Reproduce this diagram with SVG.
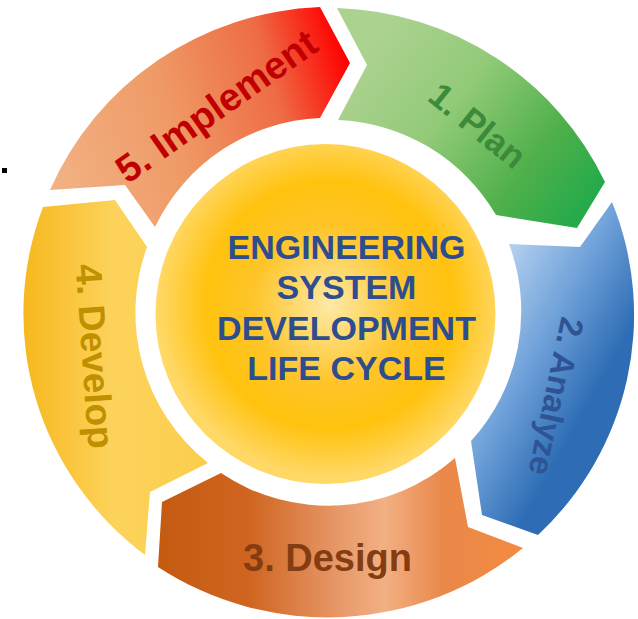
<svg xmlns="http://www.w3.org/2000/svg" width="638" height="619" viewBox="0 0 638 619">
<defs>
<style>
text{font-family:"Liberation Sans",Arial,"DejaVu Sans",sans-serif;font-weight:bold}
.ctr{font-size:34px;fill:#2d4d8e;text-anchor:middle}
.lbl{text-anchor:middle}
</style>
<linearGradient id="gPlan" gradientUnits="userSpaceOnUse" x1="380" y1="40" x2="600" y2="210">
<stop offset="0" stop-color="#abd28f"/>
<stop offset="0.35" stop-color="#92ca78"/>
<stop offset="0.7" stop-color="#4fb04a"/>
<stop offset="1" stop-color="#1ea94a"/>
</linearGradient>
<linearGradient id="gAnalyze" gradientUnits="userSpaceOnUse" x1="505" y1="260" x2="630" y2="330">
<stop offset="0" stop-color="#b2ceee"/>
<stop offset="0.5" stop-color="#6fa1d9"/>
<stop offset="1" stop-color="#2e6db5"/>
</linearGradient>
<linearGradient id="gDesign" gradientUnits="userSpaceOnUse" x1="158" y1="0" x2="523" y2="0">
<stop offset="0" stop-color="#c55a11"/>
<stop offset="0.25" stop-color="#cf6520"/>
<stop offset="0.5" stop-color="#e8996a"/>
<stop offset="0.62" stop-color="#f2b083"/>
<stop offset="0.78" stop-color="#ea884a"/>
<stop offset="1" stop-color="#f38b40"/>
</linearGradient>
<linearGradient id="gDevelop" gradientUnits="userSpaceOnUse" x1="20" y1="0" x2="210" y2="0">
<stop offset="0" stop-color="#f6b71c"/>
<stop offset="0.5" stop-color="#fdd35c"/>
<stop offset="1" stop-color="#fbcd4c"/>
</linearGradient>
<linearGradient id="gImplement" gradientUnits="userSpaceOnUse" x1="50" y1="160" x2="350" y2="70">
<stop offset="0" stop-color="#f2b183"/>
<stop offset="0.4" stop-color="#ef9a66"/>
<stop offset="0.75" stop-color="#ee6c45"/>
<stop offset="1" stop-color="#ff0000"/>
</linearGradient>
<radialGradient id="gCenter" gradientUnits="userSpaceOnUse" cx="330" cy="305" r="172">
<stop offset="0" stop-color="#fde9a6"/>
<stop offset="0.45" stop-color="#fec52a"/>
<stop offset="0.72" stop-color="#ffc20e"/>
<stop offset="1" stop-color="#ffd866"/>
</radialGradient>
</defs>
<rect width="638" height="619" fill="#ffffff"/>
<rect x="2" y="168" width="5" height="5" fill="#000000"/>
<g id="connectors"/>
<g id="node-plan">
<path d="M337,8 A307,303 0 0 1 605,182 L577,228 L496,215 A192,192 0 0 0 338,120 L367,65 Z" fill="url(#gPlan)"/>
<text class="lbl" x="470" y="135" font-size="35" fill="#3d8a3a" transform="rotate(39 470 135)">1. Plan</text>
</g>
<g id="node-analyze">
<path d="M612,202 A307,303 0 0 1 538,535 L482,515 L471,441 A192,192 0 0 0 509,244 L580,247 Z" fill="url(#gAnalyze)"/>
<text class="lbl" x="545" y="394" font-size="33" fill="#2f5496" transform="rotate(102 545 394)">2. Analyze</text>
</g>
<g id="node-design">
<path d="M523,548 A307,303 0 0 1 158,567 L162,502 L221,473 A192,192 0 0 0 455,458 L468,527 Z" fill="url(#gDesign)"/>
<text class="lbl" x="327.5" y="571" font-size="38" fill="#843c12">3. Design</text>
</g>
<g id="node-develop">
<path d="M145,555 A307,303 0 0 1 43,207 L115,200 L147,247 A192,192 0 0 0 208,463 L150,492 Z" fill="url(#gDevelop)"/>
<text class="lbl" x="82" y="357" font-size="37" fill="#bf9000" transform="rotate(86 82 357)">4. Develop</text>
</g>
<g id="node-implement">
<path d="M50,190 A307,303 0 0 1 320,7 L350,63 L320,118 A192,192 0 0 0 155,227 L125,185 Z" fill="url(#gImplement)"/>
<text class="lbl" x="224" y="117" font-size="38.5" fill="#c00000" transform="rotate(-35 224 117)">5. Implement</text>
</g>
<g id="node-center">
<circle cx="325.5" cy="314" r="170" fill="url(#gCenter)"/>
<text class="ctr" x="346.5" y="259">ENGINEERING</text>
<text class="ctr" x="346.5" y="299">SYSTEM</text>
<text class="ctr" x="346.5" y="339.5">DEVELOPMENT</text>
<text class="ctr" x="346.5" y="380">LIFE CYCLE</text>
</g>
</svg>
